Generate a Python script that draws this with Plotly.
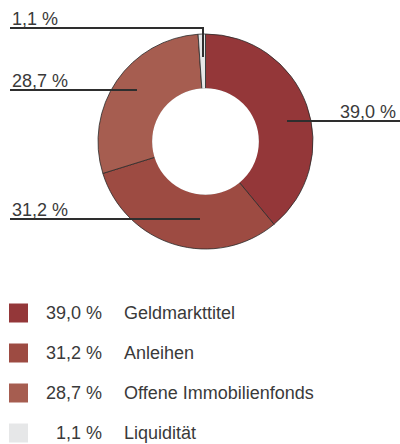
import plotly.graph_objects as go

categories = ["Geldmarkttitel", "Anleihen", "Offene Immobilienfonds", "Liquidität"]
values = [39.0, 31.2, 28.7, 1.1]
value_labels = ["39,0 %", "31,2 %", "28,7 %", "1,1 %"]
colors = ["#943739", "#9D4B42", "#A65D50", "#E6E7E8"]

W, H = 400, 444

def px(x):
    return x / W

def py(y):
    return 1 - y / H

cx, cy, R = 205.5, 141.5, 107.5
HOLE = 0.49

fig = go.Figure()
fig.add_trace(go.Pie(
    labels=categories, values=values, sort=False, direction="clockwise",
    rotation=0, hole=HOLE, textinfo="none", hoverinfo="label+percent",
    marker=dict(colors=colors, line=dict(color="#2a2a2a", width=0.8)),
    domain=dict(x=[px(cx - R), px(cx + R)], y=[py(cy + R), py(cy - R)]),
    showlegend=False,
))

FONT = "Liberation Sans, Arial, sans-serif"
TXT = "#3a3a3a"
LINE = "#2e2e2e"

leaders = {
    3: dict(pts=[(10, 28), (203, 28), (203, 57)], tx=10, ty=19, side="left"),
    2: dict(pts=[(10, 90), (137, 90)], tx=10, ty=81, side="left"),
    0: dict(pts=[(287, 121), (400, 121)], tx=398, ty=112, side="right"),
    1: dict(pts=[(10, 219), (200, 219)], tx=10, ty=210, side="left"),
}

shapes = []
annotations = []

# cover inner edge outline of the hole (reference hole has no border)
rh = HOLE * R + 0.7
shapes.append(dict(type="circle", xref="paper", yref="paper",
                   x0=px(cx - rh), x1=px(cx + rh), y0=py(cy + rh), y1=py(cy - rh),
                   fillcolor="white", line=dict(width=0), layer="above"))

for i, d in leaders.items():
    pts = d["pts"]
    path = "M " + " L ".join(f"{px(x)},{py(y)}" for x, y in pts)
    shapes.append(dict(type="path", xref="paper", yref="paper", path=path,
                       line=dict(color=LINE, width=2)))
    annotations.append(dict(
        x=px(d["tx"]), y=py(d["ty"]), xref="paper", yref="paper",
        text=value_labels[i], showarrow=False,
        xanchor="left" if d["side"] == "left" else "right", yanchor="middle",
        font=dict(family=FONT, size=18, color=TXT),
    ))

row_y = [313, 353, 393, 433]
for i, (cat, lab, col) in enumerate(zip(categories, value_labels, colors)):
    y = row_y[i]
    shapes.append(dict(type="rect", xref="paper", yref="paper",
                       x0=px(9), x1=px(28), y0=py(y - 9.5), y1=py(y + 9.5),
                       fillcolor=col, line=dict(width=0)))
    annotations.append(dict(x=px(104), y=py(y), xref="paper", yref="paper",
                            text=lab, showarrow=False, xanchor="right", yanchor="middle",
                            font=dict(family=FONT, size=18, color=TXT)))
    annotations.append(dict(x=px(122), y=py(y), xref="paper", yref="paper",
                            text=cat, showarrow=False, xanchor="left", yanchor="middle",
                            font=dict(family=FONT, size=18, color=TXT)))

fig.update_layout(
    width=W, height=H, margin=dict(l=0, r=0, t=0, b=0),
    paper_bgcolor="white", plot_bgcolor="white",
    shapes=shapes, annotations=annotations,
)

fig.write_html("out.html", config={"displayModeBar": False},
               post_script="document.body.style.margin='0';document.body.style.overflow='hidden';")
